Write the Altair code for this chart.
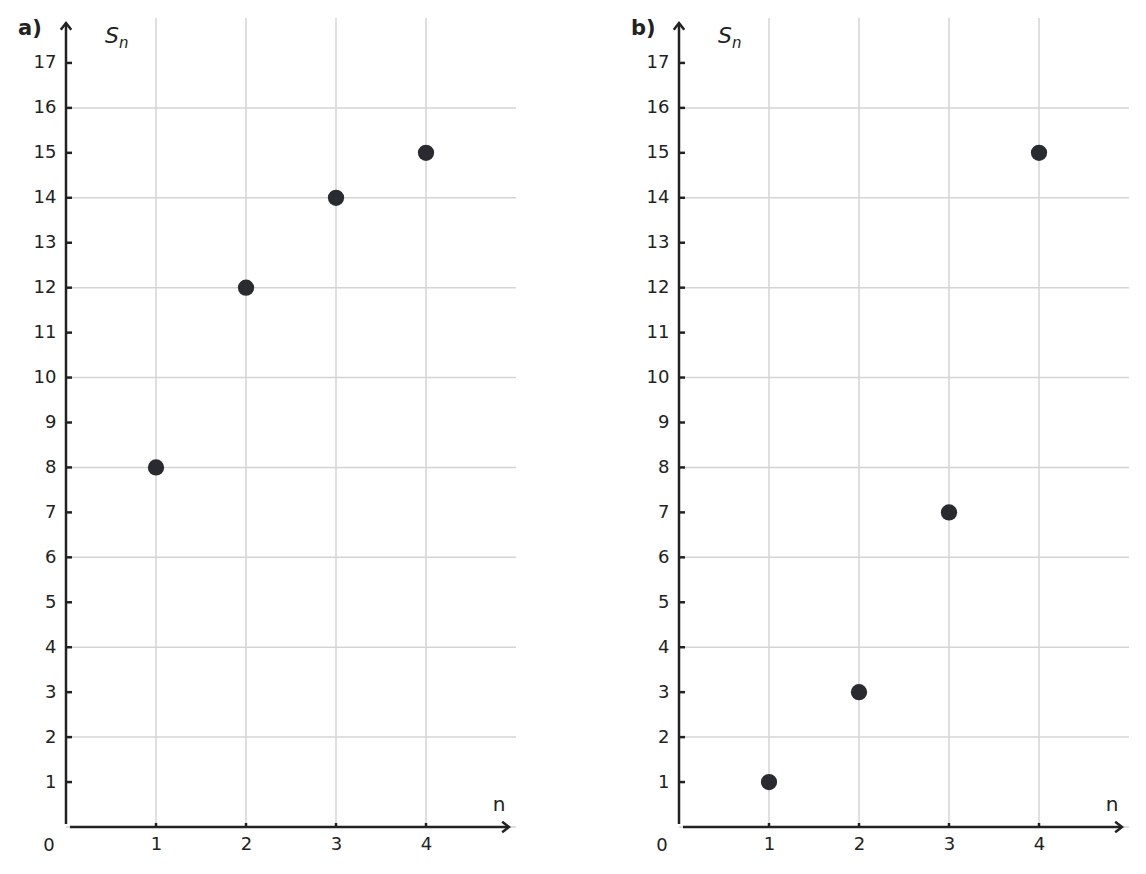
import altair as alt
import pandas as pd

# ---- data ----
n_values = [1, 2, 3, 4]
sn_a = [8, 12, 14, 15]
sn_b = [1, 3, 7, 15]
y_tick_values = list(range(1, 18))
x_tick_values = [1, 2, 3, 4]
h_grid_values = [0, 2, 4, 6, 8, 10, 12, 14, 16]
v_grid_values = [1, 2, 3, 4]
panel_letters = ["a)", "b)"]

W, H = 450, 809
X_DOMAIN = [0, 5]
Y_DOMAIN = [0, 18]
FONT = "DejaVu Sans"
DARK = "#222222"
GRID = "#d4d4d4"
POINT = "#2a2a31"


def panel(values, letter):
    xs = alt.Scale(domain=X_DOMAIN, nice=False, zero=False)
    ys = alt.Scale(domain=Y_DOMAIN, nice=False, zero=False)
    x_axis = alt.Axis(values=x_tick_values, title=None, domain=False, ticks=False, grid=False,
                      labelFont=FONT, labelFontSize=18, labelColor=DARK, labelPadding=8,
                      labelFlush=False, labelOverlap=False, format="d")
    y_axis = alt.Axis(values=y_tick_values, title=None, domain=False, ticks=False, grid=False,
                      labelFont=FONT, labelFontSize=18, labelColor=DARK, labelPadding=10,
                      labelFlush=False, labelOverlap=False, format="d",
                      minExtent=58, maxExtent=58)

    pts = pd.DataFrame({"n": n_values, "S": values})

    hgrid = alt.Chart(pd.DataFrame({"g": h_grid_values})).mark_rule(
        color=GRID, strokeWidth=1.5).encode(
        y=alt.Y("g:Q", scale=ys, axis=y_axis), x=alt.value(0), x2=alt.value(W))
    vgrid = alt.Chart(pd.DataFrame({"g": v_grid_values})).mark_rule(
        color=GRID, strokeWidth=1.5).encode(
        x=alt.X("g:Q", scale=xs, axis=x_axis), y=alt.value(0), y2=alt.value(H))

    yticks = alt.Chart(pd.DataFrame({"t": y_tick_values})).mark_rule(
        color=DARK, strokeWidth=2.5).encode(
        y=alt.Y("t:Q", scale=ys, axis=y_axis), x=alt.value(0), x2=alt.value(6))
    xticks = alt.Chart(pd.DataFrame({"t": x_tick_values})).mark_rule(
        color=DARK, strokeWidth=2.5).encode(
        x=alt.X("t:Q", scale=xs, axis=x_axis), y=alt.value(H), y2=alt.value(H - 4))

    one = pd.DataFrame({"k": [letter]})
    yline = alt.Chart(one).mark_rule(color=DARK, strokeWidth=2.5).encode(
        x=alt.value(0), y=alt.value(H - 3), y2=alt.value(5))
    xline = alt.Chart(one).mark_rule(color=DARK, strokeWidth=2.5).encode(
        x=alt.value(4), x2=alt.value(442), y=alt.value(H))
    yarrow = alt.Chart(one).mark_point(
        shape="M-1,1.3L0,0L1,1.3", filled=False, color=DARK, strokeWidth=2.5,
        size=110, opacity=1).encode(x=alt.value(0), y=alt.value(5))
    xarrow = alt.Chart(one).mark_point(
        shape="M-1.3,-1L0,0L-1.3,1", filled=False, color=DARK, strokeWidth=2.5,
        size=110, opacity=1).encode(x=alt.value(443), y=alt.value(H))

    dots = alt.Chart(pts).mark_circle(size=265, color=POINT, opacity=1).encode(
        x=alt.X("n:Q", scale=xs, axis=x_axis), y=alt.Y("S:Q", scale=ys, axis=y_axis))

    letter_txt = alt.Chart(one).mark_text(
        font=FONT, fontSize=21, fontWeight="bold", color=DARK, align="left",
        baseline="middle").encode(text="k:N", x=alt.value(-48), y=alt.value(11))
    s_txt = alt.Chart(pd.DataFrame({"t": ["S"]})).mark_text(
        font=FONT, fontSize=22, fontStyle="italic", color=DARK, align="left",
        baseline="middle").encode(text="t:N", x=alt.value(39), y=alt.value(18))
    sub_txt = alt.Chart(pd.DataFrame({"t": ["n"]})).mark_text(
        font=FONT, fontSize=15, fontStyle="italic", color=DARK, align="left",
        baseline="middle").encode(text="t:N", x=alt.value(53), y=alt.value(25))
    zero_txt = alt.Chart(pd.DataFrame({"t": ["0"]})).mark_text(
        font=FONT, fontSize=18, color=DARK, align="center",
        baseline="middle").encode(text="t:N", x=alt.value(-17), y=alt.value(828))
    n_txt = alt.Chart(pd.DataFrame({"t": ["n"]})).mark_text(
        font=FONT, fontSize=20, color=DARK, align="center",
        baseline="middle").encode(text="t:N", x=alt.value(433), y=alt.value(787))

    return alt.layer(hgrid, vgrid, yticks, xticks, yline, xline, yarrow, xarrow, dots,
                     letter_txt, s_txt, sub_txt, zero_txt, n_txt).properties(width=W, height=H)


chart = alt.hconcat(panel(sn_a, panel_letters[0]), panel(sn_b, panel_letters[1]), spacing=104).properties(
    padding={"left": 0, "top": 9, "right": 0, "bottom": 0},
    background="white"
).configure_view(stroke=None)

chart.save("out.html", embed_options={"renderer": "svg", "actions": False})
